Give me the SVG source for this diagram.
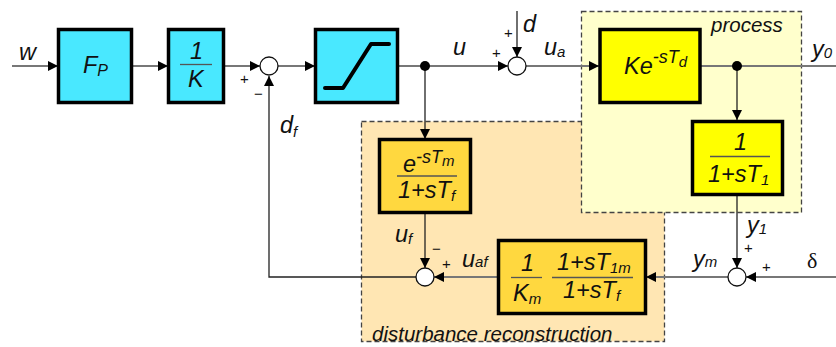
<svg xmlns="http://www.w3.org/2000/svg" width="836" height="347" viewBox="0 0 836 347">
<style>
text{font-family:"Liberation Sans",Arial,sans-serif;font-style:italic;fill:#111;font-size:23.500px}
.sub{font-size:15px}
.sup{font-size:18px}
.cap{font-size:20.500px}
.sm{font-size:15px;font-style:normal}
.reg{stroke:#444;stroke-width:1.3;stroke-dasharray:5 3}
.blk{stroke:#000;stroke-width:3.5}
.cy{fill:#49e8ff}.ye{fill:#ffff00}.or{fill:#ffd83f}
.thick{fill:none;stroke:#777;stroke-width:2.2}
.thin{fill:none;stroke:#222;stroke-width:1.3}
.frac{stroke:#555;stroke-width:1.3;fill:none}
.sum{fill:#fff;stroke:#111;stroke-width:1.3}
</style>
<defs>
<marker id="a" markerUnits="userSpaceOnUse" markerWidth="11" markerHeight="11" refX="10" refY="5.500" orient="auto"><path d="M0 0.500L10 5.500L0 10.500Z" fill="#000"/></marker>
</defs>
<g id="regions">
<rect id="disturbance-region" x="361.500" y="121.500" width="303" height="220" fill="#ffe6b3" class="reg"/>
<rect id="process-region" x="581.500" y="11.500" width="220" height="201" fill="#ffffcc" class="reg"/>
</g>
<g id="connectors">
<path class="thick" d="M12 66H58" marker-end="url(#a)"/>
<path class="thick" d="M133 66H168" marker-end="url(#a)"/>
<path class="thick" d="M224 66H260" marker-end="url(#a)"/>
<path class="thick" d="M278 66H315" marker-end="url(#a)"/>
<path class="thick" d="M398 66H508" marker-end="url(#a)"/>
<path class="thick" d="M526 66H599" marker-end="url(#a)"/>
<path class="thick" d="M701 66H836"/>
<path class="thin" d="M517 11V57" marker-end="url(#a)"/>
<path class="thin" d="M425 66V139" marker-end="url(#a)"/>
<path class="thin" d="M737 66V120" marker-end="url(#a)"/>
<path class="thin" d="M737 195V268" marker-end="url(#a)"/>
<path class="thin" d="M425 213V268" marker-end="url(#a)"/>
<path class="thin" d="M416 277H269V76" marker-end="url(#a)"/>
<path class="thick" d="M498 277H434" marker-end="url(#a)"/>
<path class="thick" d="M728 277H646" marker-end="url(#a)"/>
<path class="thick" d="M836 277H746" marker-end="url(#a)"/>
<circle cx="425" cy="66" r="5" fill="#000"/>
<circle cx="737" cy="66" r="5" fill="#000"/>
</g>
<g id="node-fp"><rect x="58.500" y="29.500" width="73" height="73" class="cy blk"/><text x="83" y="73">F<tspan style="font-size:16px" dy="3">P</tspan></text></g>
<g id="node-1k"><rect x="168.500" y="29.500" width="55" height="73" class="cy blk"/><text x="190" y="59">1</text><path class="frac" d="M180 64.500H212"/><text x="188" y="87">K</text></g>
<g id="node-sat"><rect x="315.500" y="29.500" width="82" height="73" class="cy blk"/><path d="M325 88H343L371 44H389" fill="none" stroke="#000" stroke-width="4" stroke-linecap="round" stroke-linejoin="round"/></g>
<g id="node-ke"><rect x="600" y="29.500" width="100" height="73" class="ye blk"/><text x="624" y="74">Ke<tspan class="sup" dy="-11">-sT</tspan><tspan class="sub" dy="4">d</tspan></text></g>
<g id="node-t1"><rect x="692.500" y="121.500" width="90" height="73" class="ye blk"/><text x="734" y="150">1</text><path class="frac" d="M710 156.500H770"/><text x="708" y="182">1+sT<tspan class="sub" dy="3">1</tspan></text></g>
<g id="node-em"><rect x="379.500" y="139.500" width="91" height="73" class="or blk"/><text x="403" y="172">e<tspan class="sup" dy="-9">-sT</tspan><tspan class="sub" dy="3">m</tspan></text><path class="frac" d="M397 176H457"/><text x="398" y="198">1+sT<tspan class="sub" dy="3">f</tspan></text></g>
<g id="node-km"><rect x="498.500" y="240.500" width="147" height="73" class="or blk"/><text x="521" y="271">1</text><path class="frac" d="M511 277.500H542"/><text x="513" y="301">K<tspan class="sub" dy="3">m</tspan></text><text x="557" y="270">1+sT<tspan class="sub" dy="3">1m</tspan></text><path class="frac" d="M552 277.500H633"/><text x="563" y="298">1+sT<tspan class="sub" dy="3">f</tspan></text></g>
<g id="sum-1"><circle cx="269" cy="66" r="9" class="sum"/></g>
<g id="sum-2"><circle cx="517" cy="66" r="9" class="sum"/></g>
<g id="sum-3"><circle cx="425" cy="277" r="9" class="sum"/></g>
<g id="sum-4"><circle cx="737" cy="277" r="9" class="sum"/></g>
<g id="labels">
<text x="19" y="60">w</text>
<text x="280" y="133">d<tspan class="sub" dy="4">f</tspan></text>
<text x="453" y="55">u</text>
<text x="523" y="32">d</text>
<text x="544" y="55">u<tspan class="sub" dy="2">a</tspan></text>
<text x="711" y="32" class="cap">process</text>
<text x="812" y="57">y<tspan class="sub" dy="1">0</tspan></text>
<text x="747" y="233">y<tspan class="sub" dy="1">1</tspan></text>
<text x="693" y="267">y<tspan class="sub" dy="0">m</tspan></text>
<text x="807" y="268" style="font-style:normal;font-family:'Liberation Serif',serif;font-size:22px">δ</text>
<text x="395" y="242">u<tspan class="sub" dy="2">f</tspan></text>
<text x="462" y="267">u<tspan class="sub" dy="0">af</tspan></text>
<text x="372" y="341" class="cap">disturbance reconstruction</text>
<text class="sm" x="240" y="84">+</text>
<text class="sm" x="254" y="99">−</text>
<text class="sm" x="492" y="58">+</text>
<text class="sm" x="504" y="38">+</text>
<text class="sm" x="432" y="254">−</text>
<text class="sm" x="442" y="269">+</text>
<text class="sm" x="744" y="253">+</text>
<text class="sm" x="762" y="272">+</text>
</g>
</svg>
